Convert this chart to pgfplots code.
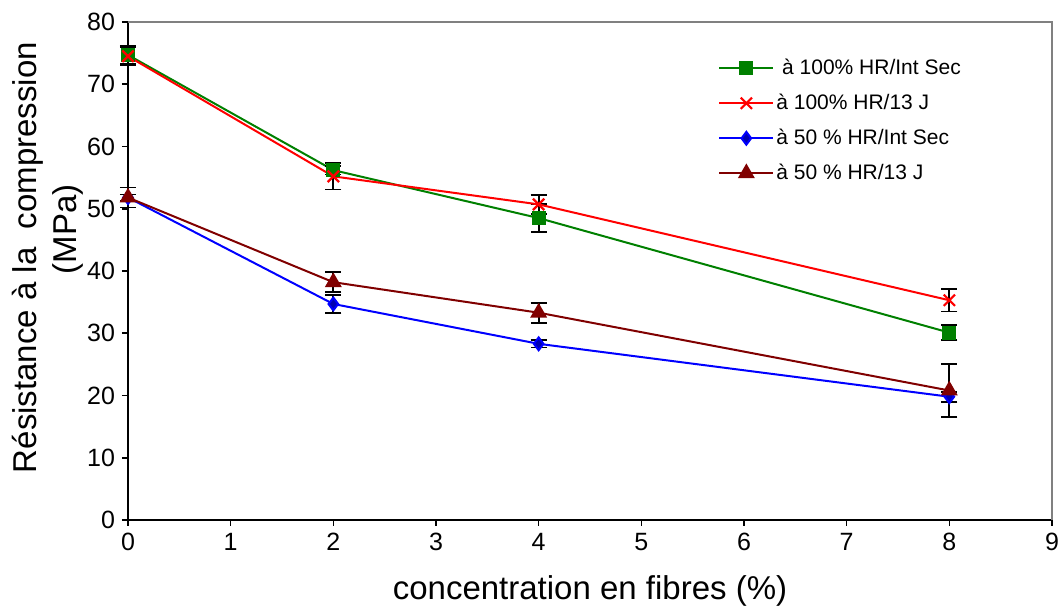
\documentclass[border=0pt]{standalone}
\usepackage{fontspec}
\setmainfont{Liberation Sans}
\usepackage{pgfplots}
\pgfplotsset{compat=1.18}
\definecolor{cgreen}{RGB}{0,128,0}
\definecolor{cred}{RGB}{255,0,0}
\definecolor{cblue}{RGB}{0,0,255}
\definecolor{cbrown}{RGB}{128,0,0}
\definecolor{cgray}{RGB}{128,128,128}
\begin{document}
\begin{tikzpicture}
\begin{axis}[
  scale only axis,
  width=462pt, height=249pt,
  xmin=0, xmax=9, ymin=0, ymax=80,
  xtick={0,...,9}, ytick={0,10,...,80},
  axis x line*=bottom, axis y line*=left,
  axis line style={black, line width=0.8pt},
  tick align=outside,
  major tick length=3pt,
  tick style={black, line width=0.8pt},
  ticklabel style={font=\fontsize{12.5}{14}\selectfont},
  /pgf/number format/assume math mode=true,
  clip=false,
  xlabel={concentration en fibres (\%)},
  xlabel style={font=\fontsize{16.5}{19}\selectfont, at={(axis description cs:0.5,-0.143)}, anchor=center},
  ylabel={Résistance à la\ \ compression\\\hspace*{28pt}(MPa)},
  ylabel style={font=\fontsize{16.5}{20}\selectfont, align=center, at={(axis description cs:-0.0866,0.527)}, anchor=center, rotate=0},
  legend style={draw=none, fill=none, inner sep=0pt,
    at={(axis description cs:0.6385,0.934)}, anchor=north west,
    font=\fontsize{10.5}{12.6}\selectfont, row sep=4.5pt,
    nodes={inner sep=1pt, text height=8.5pt, text depth=2.5pt}},
  legend cell align=left,
  legend image code/.code={\draw[mark repeat=2,mark phase=2,#1] plot coordinates {(0pt,0pt) (13.5pt,0pt) (27pt,0pt)};},
  every axis plot/.append style={line width=1pt},
  error bars/y dir=both, error bars/y explicit,
  error bars/error bar style={black, line width=0.9pt},
  error bars/error mark=-,
  error bars/error mark options={black, rotate=90, mark size=4pt, line width=0.9pt},
]
\addplot[color=cgreen, mark=square*, mark size=3pt, mark options={solid, fill=cgreen}]
  coordinates {(0,74.7) +- (0,1.4) (2,56.2) +- (0,0.7) (4,48.5) +- (0,2.2) (8,30.1) +- (0,1.2)};
\addlegendentry{\ à 100\% HR/Int Sec}
\addplot[color=cred, mark=x, mark size=4pt, mark options={solid, line width=1.1pt}]
  coordinates {(0,74.5) +- (0,1.5) (2,55.2) +- (0,2.1) (4,50.7) +- (0,1.5) (8,35.3) +- (0,1.8)};
\addlegendentry{à 100\% HR/13 J}
\addplot[color=cblue, mark=diamond*, mark size=3.2pt, mark options={solid, fill=cblue!70!black, draw=cblue}]
  coordinates {(0,51.8) +- (0,0.5) (2,34.7) +- (0,1.4) (4,28.3) +- (0,0.6) (8,19.8) +- (0,0.8)};
\addlegendentry{à 50 \% HR/Int Sec}
\addplot[color=cbrown, mark=triangle*, mark size=3.9pt, mark options={solid, fill=cbrown}]
  coordinates {(0,51.8) +- (0,1.6) (2,38.2) +- (0,1.6) (4,33.3) +- (0,1.6) (8,20.8) +- (0,4.2)};
\addlegendentry{à 50 \% HR/13 J}
\draw[cgray, line width=1pt] (rel axis cs:0,1) -- (rel axis cs:1,1) -- (rel axis cs:1,0);
\coordinate (O) at (rel axis cs:0,0);
\end{axis}
\pgfresetboundingbox
\path[use as bounding box] (O) ++(-64pt,-44pt) rectangle ++(531pt,304pt);
\end{tikzpicture}
\end{document}
